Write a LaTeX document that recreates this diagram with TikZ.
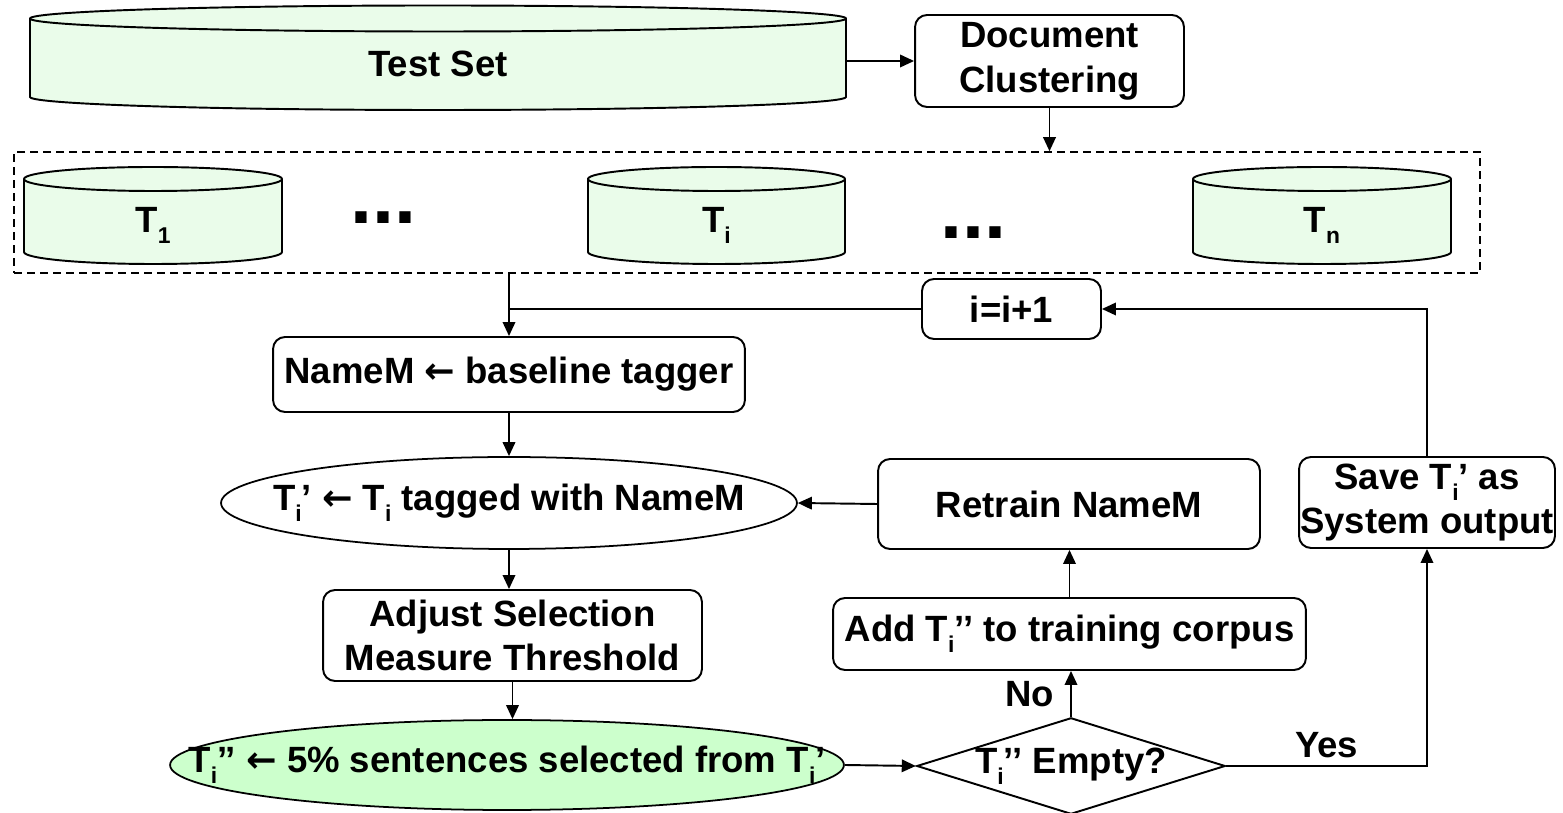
\documentclass[tikz,border=0pt]{standalone}
\usepackage{fontspec}
\setmainfont{Liberation Sans}
\newfontfamily\arrowfont{DejaVu Sans}
\usetikzlibrary{arrows.meta,shapes.geometric}
\definecolor{cylfill}{HTML}{EAFCEA}
\definecolor{selfill}{HTML}{CCFFCC}
\newcommand\subsc[1]{\raisebox{-0.3em}{\fontsize{13}{13}\selectfont #1}}
\newcommand\Ti{T\subsc{i}}
\newcommand\larr{{\arrowfont\bfseries ←}}
\newcommand\cylshape[5]{%
  \filldraw[cylbody] (#1,-#3) -- (#1,-#4)
    arc[start angle=180,end angle=360,x radius={((#2-#1)/2)*0.02cm},y radius={#5*0.02cm}]
    -- (#2,-#3)
    arc[start angle=0,end angle=180,x radius={((#2-#1)/2)*0.02cm},y radius={#5*0.02cm}] -- cycle;
  \draw[line width=1.1pt] (#1,-#3)
    arc[start angle=180,end angle=360,x radius={((#2-#1)/2)*0.02cm},y radius={#5*0.02cm}];}
\begin{document}
\begin{tikzpicture}[x=0.02cm,y=0.02cm,
  every node/.style={font=\fontsize{20.8}{25.5}\selectfont\bfseries},
  box/.style={draw,rounded corners=0.24cm,line width=1.1pt,align=center,inner sep=0pt},
  arr/.style={line width=1.1pt,-{Triangle[length=0.28cm,width=0.25cm]}},
  ln/.style={line width=1.1pt},
  lab/.style={inner sep=0pt},
  cylbody/.style={fill=cylfill,draw,line width=1.1pt},
  dotsty/.style={inner sep=0pt,font=\fontsize{45}{50}\selectfont\bfseries}]
\useasboundingbox (0,0) rectangle (1563,-813);

% Test set cylinder
\cylshape{30}{846}{18.5}{97}{13}
\node[inner sep=0pt, minimum width=16.32cm, minimum height=1.58cm] (test) at (438,-61) {};
\node[inner sep=0pt] (testlab) at (438,-64) {Test Set};

\node[box, minimum width=5.38cm, minimum height=1.84cm] (doc) at (1049.5,-61) {Document\\Clustering};

% group of clusters
\node[draw, dash pattern=on 0.16cm off 0.1cm, line width=0.9pt, minimum width=29.32cm, minimum height=2.42cm, inner sep=0pt] (group) at (747,-212.5) {};
\cylshape{24}{282}{179}{252}{12}
\cylshape{588}{845}{179}{252}{12}
\cylshape{1193}{1451}{179}{252}{12}
\node[anchor=base, inner sep=0pt] (t1) at (153,-233) {T\subsc{1}};
\node[anchor=base, inner sep=0pt] (ti) at (716.5,-233) {\Ti};
\node[anchor=base, inner sep=0pt] (tn) at (1322,-233) {T\subsc{n}};
\node[dotsty] (dotsa) at (383,-218) {...};
\node[dotsty] (dotsb) at (973,-233) {...};

\node[box, minimum width=3.58cm, minimum height=1.2cm] (inc) at (1011.5,-309) {i=i+1};
\node[box, minimum width=9.44cm, minimum height=1.5cm] (namem) at (509,-374.5) {NameM \larr{} baseline tagger};
\node[ellipse, draw, line width=1pt, minimum width=11.52cm, minimum height=1.84cm, inner sep=0pt] (tag) at (509,-503) {};
\node[inner sep=0pt] (taglab) at (tag.center) {\Ti’ \larr{} \Ti{} tagged with NameM};
\node[box, minimum width=7.58cm, minimum height=1.82cm] (adjust) at (512.5,-635.5) {Adjust Selection\\Measure Threshold};
\node[ellipse, draw, fill=selfill, line width=1pt, minimum width=13.48cm, minimum height=1.8cm, inner sep=0pt] (sel) at (507,-765) {};
\node[inner sep=0pt] (sellab) at (sel.center) {\Ti’’ \larr{} 5\% sentences selected from \Ti’};
\node[diamond, draw, line width=1.1pt, aspect=3.2, minimum width=6.16cm, minimum height=1.92cm, inner sep=0pt] (emp) at (1071,-766) {\Ti’’ Empty?};
\node[box, minimum width=9.46cm, minimum height=1.44cm] (add) at (1069.5,-634) {Add \Ti’’ to training corpus};
\node[box, minimum width=7.64cm, minimum height=1.8cm] (retrain) at (1069,-504) {Retrain NameM};
\node[box, minimum width=5.12cm, minimum height=1.82cm] (save) at (1427,-502.5) {Save \Ti’ as\\System output};

% connectors
\draw[arr] (test.east |- doc.west) -- (doc.west);
\draw[arr] (doc.south) -- (doc.south |- group.north);
\draw[arr] (namem.north |- group.south) -- (namem.north);
\draw[ln] (inc.west) -- (inc.west -| namem.north);
\draw[arr] (namem.south) -- (tag.north);
\draw[arr] (tag.south) -- (tag.south |- adjust.north);
\draw[arr] (adjust.south) -- (adjust.south |- sel.north);
\draw[arr] (sel.east) -- (emp.west);
\draw[arr] (emp.north) -- (emp.north |- add.south) node[midway, left=0.32cm, lab] {No};
\draw[arr] (add.north) -- (add.north |- retrain.south);
\draw[arr] (retrain.west) -- (tag.east);
\draw[arr] (emp.east) -| (save.south) node[pos=0.25, above=0.14cm, lab] {Yes};
\draw[arr] (save.north) |- (inc.east);
\end{tikzpicture}
\end{document}
